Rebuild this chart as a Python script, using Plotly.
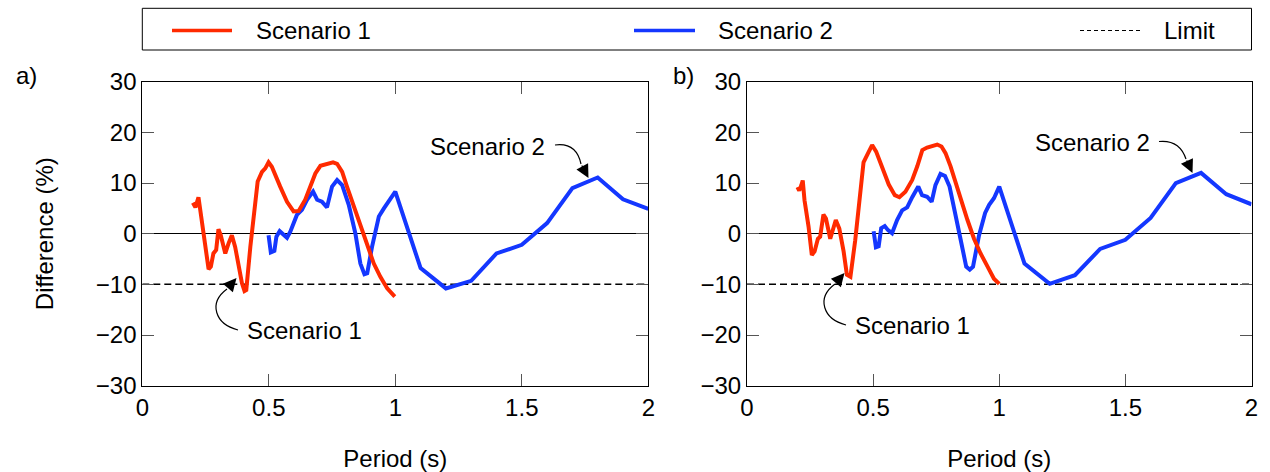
import plotly.graph_objects as go

# ---------------- data ----------------
period_s1_a = [0.200, 0.210, 0.222, 0.235, 0.250, 0.262, 0.271, 0.281, 0.292, 0.301, 0.310,
               0.328, 0.341, 0.354, 0.367, 0.380, 0.394, 0.404, 0.411, 0.427, 0.440, 0.456,
               0.473, 0.486, 0.499, 0.512, 0.545, 0.572, 0.598, 0.618, 0.644, 0.664, 0.684,
               0.704, 0.730, 0.754, 0.770, 0.790, 0.809, 0.836, 0.862, 0.889, 0.915, 0.941,
               0.968, 0.998]
diff_s1_a = [6.1, 5.2, 7.2, 2.1, -2.6, -7.0, -6.5, -3.9, -3.2, 0.9, -0.3,
             -3.9, -1.9, -0.3, -2.6, -6.5, -9.8, -11.3, -11.1, -2.6, 4.0, 10.3,
             12.2, 12.9, 14.1, 13.2, 9.3, 6.3, 4.4, 4.5, 6.7, 9.3, 11.9,
             13.4, 13.7, 14.1, 13.8, 12.2, 9.3, 5.3, 1.4, -2.6, -5.9, -8.5,
             -10.8, -12.4]

period_s2_a = [0.499, 0.508, 0.522, 0.530, 0.543, 0.559, 0.572, 0.585, 0.611, 0.631, 0.651,
               0.675, 0.691, 0.710, 0.730, 0.750, 0.770, 0.790, 0.816, 0.842, 0.862, 0.878,
               0.889, 0.908, 0.935, 0.955, 0.974, 1.0, 1.1, 1.2, 1.3, 1.4, 1.5, 1.6, 1.7,
               1.8, 1.9, 2.0]
diff_s2_a = [-0.3, -3.7, -3.4, -0.6, 0.5, -0.3, -0.8, 0.4, 3.7, 4.7, 6.7,
             8.3, 6.7, 6.3, 5.2, 9.3, 10.6, 9.6, 5.7, 0.1, -5.9, -8.0,
             -7.8, -2.6, 3.4, 5.0, 6.3, 8.3, -6.8, -10.8, -9.3, -3.9, -2.2, 2.1, 9.0,
             11.1, 6.8, 4.9]

period_s1_b = [0.200, 0.207, 0.215, 0.221, 0.228, 0.244, 0.257, 0.268, 0.281, 0.290, 0.303,
               0.313, 0.330, 0.343, 0.352, 0.366, 0.383, 0.396, 0.410, 0.429, 0.449, 0.462,
               0.480, 0.496, 0.512, 0.536, 0.562, 0.586, 0.604, 0.628, 0.655, 0.675, 0.695,
               0.714, 0.734, 0.754, 0.771, 0.787, 0.807, 0.827, 0.847, 0.874, 0.900, 0.926,
               0.960, 0.979, 1.0]
diff_s1_b = [9.2, 8.5, 9.5, 10.5, 6.6, 1.4, -4.2, -3.5, -1.0, -0.6, 3.8,
             3.0, -1.0, 1.4, 2.7, 1.0, -3.5, -8.1, -8.5, -1.3, 9.2, 14.1,
             15.9, 17.5, 16.2, 13.3, 9.7, 7.6, 7.2, 8.3, 10.6, 13.3, 16.5,
             17.0, 17.3, 17.6, 17.2, 15.9, 13.3, 10.0, 7.3, 2.7, -1.0, -3.9,
             -7.1, -8.9, -9.9]

period_s2_b = [0.502, 0.511, 0.522, 0.532, 0.546, 0.559, 0.575, 0.595, 0.615, 0.635, 0.655,
               0.679, 0.694, 0.714, 0.732, 0.747, 0.767, 0.785, 0.803, 0.824, 0.847, 0.869,
               0.883, 0.896, 0.920, 0.944, 0.960, 0.979, 1.0, 1.1, 1.2, 1.3, 1.4, 1.5,
               1.6, 1.7, 1.8, 1.9, 2.0]
diff_s2_b = [0.5, -2.7, -2.5, 1.1, 1.5, 0.7, 0.1, 2.7, 4.6, 5.2, 7.2,
             9.3, 7.6, 7.3, 6.3, 9.6, 11.8, 11.4, 9.3, 4.6, -1.2, -6.5,
             -7.1, -6.5, -0.3, 4.1, 5.7, 7.0, 9.3, -5.9, -9.9, -8.2, -3.0, -1.2,
             3.1, 10.0, 12.0, 7.8, 5.8]

limit_period = [0, 2]
limit_value = [-10, -10]

x_ticks = [0, 0.5, 1, 1.5, 2]
x_ticktext = ["0", "0.5", "1", "1.5", "2"]
y_ticks = [-30, -20, -10, 0, 10, 20, 30]

# ---------------- style ----------------
W, H = 1270, 472
FONT = "Liberation Sans, Arial, sans-serif"
RED = "#ff2a00"
BLUE = "#1437ff"
FS = 24


def px(X):
    return X / W


def py(Y):
    return 1 - Y / H


fig = go.Figure()

for xa, ya, s1x, s1y, s2x, s2y in [
    ("x", "y", period_s1_a, diff_s1_a, period_s2_a, diff_s2_a),
    ("x2", "y2", period_s1_b, diff_s1_b, period_s2_b, diff_s2_b),
]:
    fig.add_trace(go.Scatter(x=limit_period, y=limit_value, mode="lines", name="Limit",
                             line=dict(color="black", width=1.5, dash="7px,4px"),
                             xaxis=xa, yaxis=ya, showlegend=False))
    fig.add_trace(go.Scatter(x=s2x, y=s2y, mode="lines", name="Scenario 2",
                             line=dict(color=BLUE, width=4),
                             xaxis=xa, yaxis=ya, showlegend=False))
    fig.add_trace(go.Scatter(x=s1x, y=s1y, mode="lines", name="Scenario 1",
                             line=dict(color=RED, width=4),
                             xaxis=xa, yaxis=ya, showlegend=False))

xdom_a = [px(142.3), px(648.3)]
xdom_b = [px(747.0), px(1251.5)]
ydom = [py(385.7), py(81.7)]

axis_common = dict(showline=True, linecolor="black", linewidth=1, mirror="ticks",
                   ticks="inside", ticklen=12, tickcolor="#555", tickwidth=1,
                   showgrid=False, automargin=False,
                   tickfont=dict(family=FONT, size=FS, color="black"))

xcommon = dict(axis_common, range=[0, 2], tickvals=x_ticks, ticktext=x_ticktext,
               zeroline=False,
               title=dict(text="Period (s)", font=dict(family=FONT, size=FS, color="black"),
                          standoff=30))
ycommon = dict(axis_common, range=[-30, 30], tickvals=y_ticks, zeroline=True,
               zerolinecolor="black", zerolinewidth=1)

fig.update_layout(
    width=W, height=H,
    margin=dict(l=0, r=0, t=0, b=0, pad=0, autoexpand=False),
    paper_bgcolor="white", plot_bgcolor="white",
    font=dict(family=FONT, size=FS, color="black"),
    showlegend=False,
    xaxis=dict(xcommon, domain=xdom_a, anchor="y"),
    yaxis=dict(ycommon, domain=ydom, anchor="x",
               title=dict(text="Difference (%)", font=dict(family=FONT, size=FS, color="black"),
                          standoff=35)),
    xaxis2=dict(xcommon, domain=xdom_b, anchor="y2"),
    yaxis2=dict(ycommon, domain=ydom, anchor="x2"),
)

shapes = []
annotations = []

# legend box
shapes.append(dict(type="rect", xref="paper", yref="paper", x0=px(142.3), x1=px(1251.5),
                   y0=py(50), y1=py(8.3), line=dict(color="black", width=1)))
leg_y = 30.5
for x0, x1, color, dash, label, tx in [
    (172, 232, RED, "solid", "Scenario 1", 254),
    (634, 695, BLUE, "solid", "Scenario 2", 716),
    (1080, 1140, "black", "4px,3px", "Limit", 1162),
]:
    shapes.append(dict(type="line", xref="paper", yref="paper", x0=px(x0), x1=px(x1),
                       y0=py(leg_y), y1=py(leg_y),
                       line=dict(color=color, width=3.5 if dash == "solid" else 1.2, dash=dash)))
    annotations.append(dict(xref="paper", yref="paper", x=px(tx), y=py(leg_y), text=label,
                            showarrow=False, xanchor="left", yanchor="middle",
                            font=dict(family=FONT, size=FS, color="black")))

# panel labels
annotations.append(dict(xref="paper", yref="paper", x=px(26), y=py(75), text="a)",
                        showarrow=False, xanchor="center", yanchor="middle",
                        font=dict(family=FONT, size=FS, color="black")))
annotations.append(dict(xref="paper", yref="paper", x=px(683), y=py(75), text="b)",
                        showarrow=False, xanchor="center", yanchor="middle",
                        font=dict(family=FONT, size=FS, color="black")))


def curve(points):
    (x0, y0), (x1, y1), (x2, y2), (x3, y3) = points
    return (f"M {px(x0)},{py(y0)} C {px(x1)},{py(y1)} {px(x2)},{py(y2)} {px(x3)},{py(y3)}")


def callout(text, tx, ty, path_pts, tip, off):
    annotations.append(dict(xref="paper", yref="paper", x=px(tx), y=py(ty), text=text,
                            showarrow=False, xanchor="left", yanchor="middle",
                            font=dict(family=FONT, size=FS, color="black")))
    shapes.append(dict(type="path", xref="paper", yref="paper", path=curve(path_pts),
                       line=dict(color="black", width=1.2)))
    annotations.append(dict(xref="paper", yref="paper", x=px(tip[0]), y=py(tip[1]), text="",
                            showarrow=True, arrowhead=2, arrowsize=2.2, arrowwidth=1.2,
                            arrowcolor="black", ax=off[0], ay=off[1], standoff=0))


# Scenario 2 callouts
callout("Scenario 2", 428, 147, [(555, 145), (570, 143), (578, 150), (581, 164)],
        (588.5, 178), (-7.5, -14))
callout("Scenario 2", 1033, 142, [(1159, 141.5), (1174, 140), (1182, 147), (1186, 159)],
        (1192.5, 173), (-6.5, -14))
# Scenario 1 callouts
callout("Scenario 1", 245, 330, [(238, 330), (215, 324), (208, 303), (227, 289)],
        (236.5, 278), (-9.5, 11))
callout("Scenario 1", 853, 325, [(846, 325), (823, 319), (816, 298), (835, 284)],
        (844.5, 273), (-9.5, 11))

fig.update_layout(shapes=shapes, annotations=annotations)

fig.write_html("out.html",
               config={"displayModeBar": False, "staticPlot": True},
               post_script="document.body.style.margin='0px';"
                           "document.body.style.overflow='hidden';")
